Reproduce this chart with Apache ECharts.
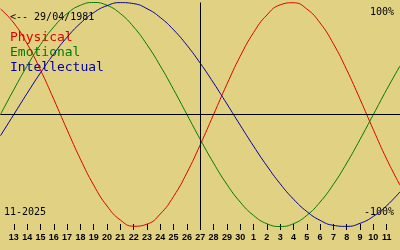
<!DOCTYPE html>
<html>
<head>
<meta charset="utf-8">
<script src="https://cdn.jsdelivr.net/npm/echarts@6/dist/echarts.min.js"></script>
<style>
html,body{margin:0;padding:0;background:#e1d283;}
#c{width:400px;height:250px;}
</style>
</head>
<body>
<div id="c"></div>
<script>
// Days from 12 Nov 2025 to 12 Dec 2025
var dayLabels = ["12","13","14","15","16","17","18","19","20","21","22","23","24","25","26","27","28","29","30",
                 "1","2","3","4","5","6","7","8","9","10","11","12"];
var physical = [94.23,81.70,63.13,39.84,13.62,-13.62,-39.84,-63.13,-81.70,-94.23,-99.77,-97.91,-88.79,-73.08,-51.97,-26.98,
                0,26.98,51.97,73.08,88.79,97.91,99.77,94.23,81.70,63.13,39.84,13.62,-13.62,-39.84,-63.13];
var emotional = [0,22.25,43.39,62.35,78.18,90.10,97.49,100,97.49,90.10,78.18,62.35,43.39,22.25,0,-22.25,-43.39,-62.35,
                 -78.18,-90.10,-97.49,-100,-97.49,-90.10,-78.18,-62.35,-43.39,-22.25,0,22.25,43.39];
var intellectual = [-18.93,0,18.93,37.17,54.07,69.01,81.45,90.96,97.18,99.89,98.98,94.50,86.60,75.58,61.82,45.82,28.17,
                    9.51,-9.51,-28.17,-45.82,-61.82,-75.58,-86.60,-94.50,-98.98,-99.89,-97.18,-90.96,-81.45,-69.01];
var todayIndex = 15;
var birthText = "<-- 29/04/1981";
var monthText = "11-2025";
var legendNames = ["Physical","Emotional","Intellectual"];
var colors = ["#dd0000","#007a00","#00009c"];

var chart = echarts.init(document.getElementById('c'), null, {renderer:'canvas'});
var mono = '"DejaVu Sans Mono", monospace';
function lineSeries(name, data, color, withMarks) {
  var s = {
    name: name, type: 'line', data: data, smooth: true, symbol: 'none',
    lineStyle: {color: color, width: 1}, silent: true, animation: false,
    emphasis: {disabled: true}
  };
  if (withMarks) {
    s.markLine = {
      silent: true, symbol: 'none', animation: false,
      label: {show: false},
      lineStyle: {color: '#000', width: 1, type: 'solid'},
      emphasis: {disabled: true},
      data: [{yAxis: 0}, {xAxis: todayIndex}]
    };
  }
  return s;
}
chart.setOption({
  backgroundColor: '#e1d283',
  animation: false,
  grid: {left: 0.5, right: -0.5, top: 2.5, bottom: 23.5},
  xAxis: {
    type: 'category', data: dayLabels, boundaryGap: false, offset: -2.5,
    axisLine: {show: false, onZero: false},
    axisTick: {show: true, length: 6, lineStyle: {color: '#000', width: 1},
      interval: function(i){ return i > 0 && i < dayLabels.length - 1; }},
    axisLabel: {show: true, margin: 9, color: '#000', fontFamily: '"Liberation Sans", sans-serif',
      fontWeight: 'bold', fontSize: 9,
      interval: function(i){ return i > 0 && i < dayLabels.length - 1; }},
    splitLine: {show: false}
  },
  yAxis: {
    type: 'value', min: -100, max: 100,
    axisLine: {show: false}, axisTick: {show: false}, axisLabel: {show: false}, splitLine: {show: false}
  },
  series: [
    lineSeries(legendNames[0], physical, colors[0], true),
    lineSeries(legendNames[1], emotional, colors[1], false),
    lineSeries(legendNames[2], intellectual, colors[2], false)
  ],
  graphic: [
    {type: 'text', left: 10, top: 12, style: {text: birthText, font: '10px ' + mono, fill: '#000'}},
    {type: 'text', left: 10, top: 31, style: {text: legendNames[0], font: '13px ' + mono, fill: colors[0]}},
    {type: 'text', left: 10, top: 46, style: {text: legendNames[1], font: '13px ' + mono, fill: colors[1]}},
    {type: 'text', left: 10, top: 61, style: {text: legendNames[2], font: '13px ' + mono, fill: colors[2]}},
    {type: 'text', right: 6, top: 7, style: {text: '100%', font: '10px ' + mono, fill: '#000'}},
    {type: 'text', left: 4, top: 207, style: {text: monthText, font: '10px ' + mono, fill: '#000'}},
    {type: 'text', right: 6, top: 207, style: {text: '-100%', font: '10px ' + mono, fill: '#000'}}
  ]
});
</script>
</body>
</html>
